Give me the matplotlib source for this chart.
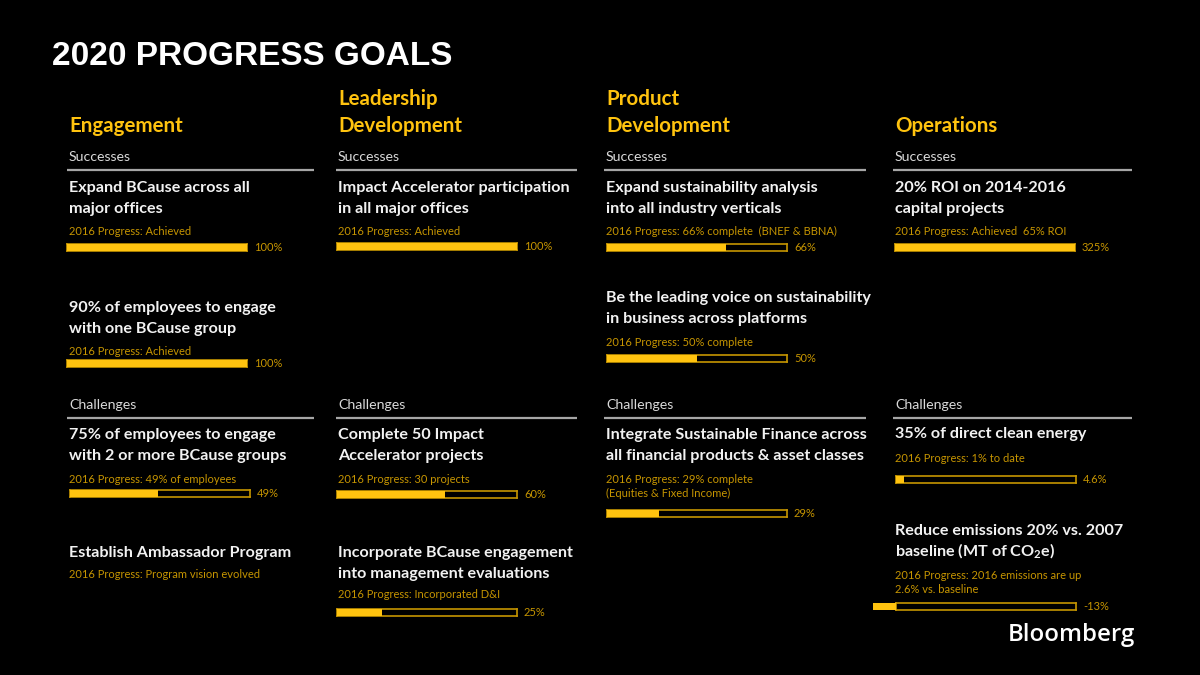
import numpy as np
import matplotlib
matplotlib.use("Agg")
import matplotlib.pyplot as plt

# ---------------- data ----------------
title = "2020 PROGRESS GOALS"
categories = ["Engagement", "Leadership\nDevelopment", "Product\nDevelopment", "Operations"]
section_names = ["Successes", "Challenges"]

goal_column = [0, 0, 0, 0, 1, 1, 1, 2, 2, 2, 3, 3, 3]
goal_titles = [
    "Expand BCause across all\nmajor offices",
    "90% of employees to engage\nwith one BCause group",
    "75% of employees to engage\nwith 2 or more BCause groups",
    "Establish Ambassador Program",
    "Impact Accelerator participation\nin all major offices",
    "Complete 50 Impact\nAccelerator projects",
    "Incorporate BCause engagement\ninto management evaluations",
    "Expand sustainability analysis\ninto all industry verticals",
    "Be the leading voice on sustainability\nin business across platforms",
    "Integrate Sustainable Finance across\nall financial products & asset classes",
    "20% ROI on 2014-2016\ncapital projects",
    "35% of direct clean energy",
    "Reduce emissions 20% vs. 2007\nbaseline (MT of CO$_2$e)",
]
progress_notes = [
    "2016 Progress: Achieved",
    "2016 Progress: Achieved",
    "2016 Progress: 49% of employees",
    "2016 Progress: Program vision evolved",
    "2016 Progress: Achieved",
    "2016 Progress: 30 projects",
    "2016 Progress: Incorporated D&I",
    "2016 Progress: 66% complete  (BNEF & BBNA)",
    "2016 Progress: 50% complete",
    "2016 Progress: 29% complete\n(Equities & Fixed Income)",
    "2016 Progress: Achieved  65% ROI",
    "2016 Progress: 1% to date",
    "2016 Progress: 2016 emissions are up\n2.6% vs. baseline",
]
progress_values = [100, 100, 49, np.nan, 100, 60, 25, 66, 50, 29, 325, 4.6, -13]
progress_labels = ["100%", "100%", "49%", "", "100%", "60%", "25%", "66%", "50%", "29%", "325%", "4.6%", "-13%"]
brand = "Bloomberg"

# ---------------- layout (pixels, 1200x675 canvas) ----------------
W, H = 1200, 675
col_x = [69, 338, 606, 895]
col_line = [(67, 314), (336, 577), (604, 866), (893, 1132)]
heading_base = [132, 132, 132, 132]
section_base = [161, 409]
section_line_y = [170, 418]
title_base = [192, 312, 439, 557, 192, 439, 557, 192, 302, 439, 192, 438, 535]
note_base = [235, 355, 483, 578, 235, 483, 598, 235, 346, 483, 235, 462, 579]
bar_y = [247, 363, 493, None, 246, 494, 612, 247, 358, 513, 247, 479, 606]
bar_x0 = [67, 67, 70, None, 337, 337, 337, 607, 607, 607, 895, 896, 896]
bar_w, bar_h = 180, 7
title_ls, note_ls = 21, 14

YELLOW = "#FFC30F"
GOLD = "#C69500"
WHITE = "#F2F2F2"
GREY = "#D9D9D9"
LINE = "#A6A6A6"
BODY = ["Lato", "DejaVu Sans"]
plt.rcParams["mathtext.default"] = "regular"
plt.rcParams["font.family"] = BODY

fig = plt.figure(figsize=(12, 6.75), dpi=100, facecolor="black")
ax = fig.add_axes([0, 0, 1, 1])
ax.set_xlim(0, W)
ax.set_ylim(H, 0)
ax.axis("off")
ax.set_facecolor("black")

ax.text(52, 65, title, family=["Liberation Sans"], weight="bold", fontsize=24,
        color="white", va="baseline", ha="left")

for c, name in enumerate(categories):
    lines = name.split("\n")
    for k, ln in enumerate(reversed(lines)):
        ax.text(col_x[c], heading_base[c] - 27 * k, ln, family=BODY, weight="bold",
                fontsize=14.8, color=YELLOW, va="baseline", ha="left")
    for s, sec in enumerate(section_names):
        ax.text(col_x[c], section_base[s], sec, family=BODY, fontsize=10.2, color=GREY,
                va="baseline", ha="left")
        ax.plot(col_line[c], [section_line_y[s]] * 2, color=LINE, lw=1.6,
                solid_capstyle="butt")

for i in range(len(goal_titles)):
    c = goal_column[i]
    for k, ln in enumerate(goal_titles[i].split("\n")):
        ax.text(col_x[c], title_base[i] + title_ls * k, ln, family=BODY, weight="bold",
                fontsize=11.6, color=WHITE, va="baseline", ha="left")
    for k, ln in enumerate(progress_notes[i].split("\n")):
        ax.text(col_x[c], note_base[i] + note_ls * k, ln, family=BODY,
                fontsize=8.0, color=GOLD, va="baseline", ha="left")
    v = progress_values[i]
    if np.isnan(v):
        continue
    x0, yc = bar_x0[i], bar_y[i]
    bax = fig.add_axes([x0 / W, 1 - (yc + bar_h / 2) / H, bar_w / W, bar_h / H])
    bax.set_xlim(0, 100)
    bax.set_ylim(-0.5, 0.5)
    bax.set_facecolor("black")
    bax.set_xticks([])
    bax.set_yticks([])
    for sp in bax.spines.values():
        sp.set_color(GOLD)
        sp.set_linewidth(1.2)
    bax.barh(0, min(v, 100), height=1.0, left=0, color=YELLOW, clip_on=False,
             edgecolor="none", zorder=3)
    ax.text(x0 + bar_w + 7, yc + 4, progress_labels[i], family=BODY, fontsize=8.0,
            color=GOLD, va="baseline", ha="left")

ax.text(1008, 641, brand, family=["Open Sans", "DejaVu Sans"], fontsize=17.3,
        weight="semibold", color="white", va="baseline", ha="left")

fig.savefig("out.png", dpi=100, facecolor="black")
